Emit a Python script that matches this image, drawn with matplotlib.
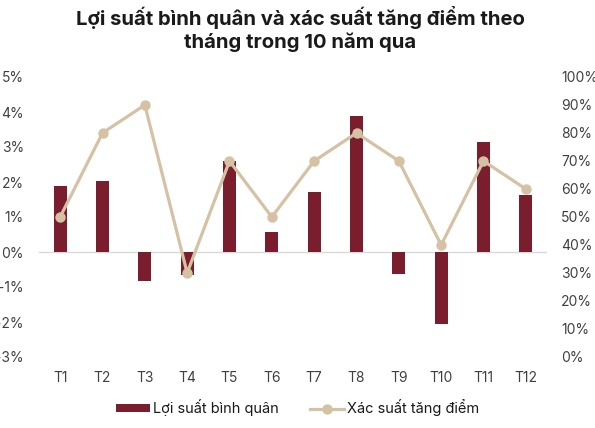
import matplotlib
matplotlib.use("Agg")
import matplotlib.pyplot as plt
from matplotlib.ticker import FuncFormatter, MultipleLocator
from matplotlib.patches import Patch
from matplotlib.lines import Line2D

months = ["T1", "T2", "T3", "T4", "T5", "T6", "T7", "T8", "T9", "T10", "T11", "T12"]
avg_return = [1.89, 2.03, -0.84, -0.65, 2.61, 0.56, 1.72, 3.88, -0.63, -2.07, 3.14, 1.64]
prob_up = [50, 80, 90, 30, 70, 50, 70, 80, 70, 40, 70, 60]

bar_color = "#7A1E2D"
line_color = "#D5C2A5"
text_color = "#404040"
font = "Inter"

plt.rcParams["font.family"] = [font, "DejaVu Sans"]

fig = plt.figure(figsize=(5.95, 4.28), dpi=100)
ax = fig.add_axes([39/595, 1-357/428, (547-39)/595, (357-77)/428])
ax2 = ax.twinx()

x = list(range(len(months)))
ax.bar(x, avg_return, width=0.31, color=bar_color, zorder=2)
ax.axhline(0, color="#d9d9d9", lw=1, zorder=1)
ax.set_ylim(-3, 5)
ax.set_xlim(-0.5, len(months)-0.5)
ax.yaxis.set_major_locator(MultipleLocator(1))
ax.yaxis.set_major_formatter(FuncFormatter(lambda v, p: f"{int(round(v))}%"))
ax.set_xticks(x)
ax.set_xticklabels(months)

ax2.plot(x, prob_up, color=line_color, lw=2.3, marker="o", markersize=6.5, zorder=3)
ax2.set_ylim(0, 100)
ax2.yaxis.set_major_locator(MultipleLocator(10))
ax2.yaxis.set_major_formatter(FuncFormatter(lambda v, p: f"{int(round(v))}%"))

for a in (ax, ax2):
    for s in a.spines.values():
        s.set_visible(False)
    a.tick_params(length=0, labelsize=10, colors=text_color)
ax.tick_params(axis="y", pad=11)
ax2.tick_params(axis="y", pad=10)
ax.tick_params(axis="x", pad=10)

fig.text(0.505, 0.985, "Lợi suất bình quân và xác suất tăng điểm theo\ntháng trong 10 năm qua",
         ha="center", va="top", fontsize=14.6, fontweight="bold", color="#1a1a1a",
         linespacing=1.2)

handles = [Patch(facecolor=bar_color, edgecolor="none"),
           Line2D([0], [0], color=line_color, lw=2.3, marker="o", markersize=6.5)]
fig.legend(handles, ["Lợi suất bình quân", "Xác suất tăng điểm"], loc="center",
           bbox_to_anchor=(0.5, 1-408/428), ncol=2, frameon=False, fontsize=10.5,
           handlelength=2.3, handleheight=0.5, handletextpad=0.2, columnspacing=2.2,
           labelcolor="#1a1a1a")

fig.savefig("out.png", dpi=100)
